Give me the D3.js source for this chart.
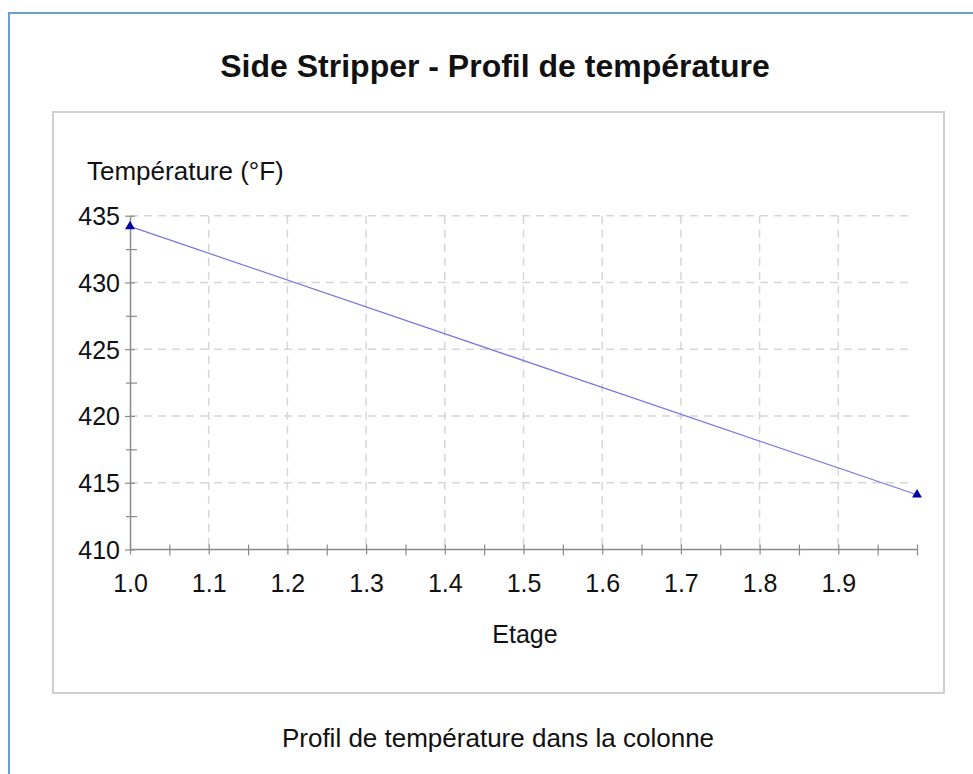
<!DOCTYPE html>
<html>
<head>
<meta charset="utf-8">
<script src="https://cdn.jsdelivr.net/npm/d3@7/dist/d3.min.js"></script>
<style>
  body { margin: 0; background: #fff; }
  text { font-family: "Liberation Sans", Arial, sans-serif; fill: #111; }
</style>
</head>
<body>
<svg id="chart" width="973" height="774"></svg>
<script>
const title = "Side Stripper - Profil de température";
const yTitle = "Température (°F)";
const xTitle = "Etage";
const caption = "Profil de température dans la colonne";

const stages = [1.0, 2.0];
const temperatures = [434.2, 414.1];

const xTicks = [1.0, 1.1, 1.2, 1.3, 1.4, 1.5, 1.6, 1.7, 1.8, 1.9];
const xMinorTicks = [1.05, 1.15, 1.25, 1.35, 1.45, 1.55, 1.65, 1.75, 1.85, 1.95, 2.0];
const yTicks = [410, 415, 420, 425, 430, 435];
const yMinorTicks = [412.5, 417.5, 422.5, 427.5, 432.5];

const svg = d3.select("#chart");
const width = +svg.attr("width");
const height = +svg.attr("height");

// outer frame (blue) and plot box (gray)
svg.append("rect")
  .attr("x", 9).attr("y", 13)
  .attr("width", width).attr("height", height)
  .attr("fill", "none")
  .attr("stroke", "#6a9fd8")
  .attr("stroke-width", 2);

svg.append("rect")
  .attr("x", 53).attr("y", 112)
  .attr("width", 891).attr("height", 581)
  .attr("fill", "none")
  .attr("stroke", "#cfcfcf")
  .attr("stroke-width", 2);

const margin = { left: 130, right: 56, top: 215.7, bottom: 224.5 };
const innerWidth = width - margin.left - margin.right;
const innerHeight = height - margin.top - margin.bottom;

const g = svg.append("g")
  .attr("transform", `translate(${margin.left}, ${margin.top})`);

const x = d3.scaleLinear().domain([1.0, 2.0]).range([0, innerWidth]);
const y = d3.scaleLinear().domain([410, 435]).range([innerHeight, 0]);

// dashed grid
g.append("g")
  .selectAll("line")
  .data(xTicks.slice(1))
  .enter()
  .append("line")
  .attr("x1", d => x(d)).attr("x2", d => x(d))
  .attr("y1", 0).attr("y2", innerHeight)
  .attr("stroke", "#d6d6d6")
  .attr("stroke-width", 1.5)
  .attr("stroke-dasharray", "8,6");

g.append("g")
  .selectAll("line")
  .data(yTicks.slice(1))
  .enter()
  .append("line")
  .attr("x1", 0).attr("x2", innerWidth - 8)
  .attr("y1", d => y(d)).attr("y2", d => y(d))
  .attr("stroke", "#d6d6d6")
  .attr("stroke-width", 1.5)
  .attr("stroke-dasharray", "8,6");

// axes: ticks cross the axis line
function styleAxis(sel) {
  sel.attr("font-size", null).attr("font-family", null);
  sel.select(".domain").attr("stroke", "#8a8a8a").attr("stroke-width", 1.5);
  sel.selectAll(".tick line").attr("stroke", "#8a8a8a").attr("stroke-width", 1.2);
  sel.selectAll(".tick text")
    .attr("font-size", "25px")
    .attr("fill", "#111");
}

const xAxis = g.append("g")
  .attr("transform", `translate(0, ${innerHeight})`)
  .call(d3.axisBottom(x).tickValues(xTicks).tickFormat(d3.format(".1f"))
    .tickSizeInner(5).tickSizeOuter(0).tickPadding(20));
xAxis.selectAll(".tick line").attr("y1", -5);
styleAxis(xAxis);
xAxis.select(".domain").attr("d", `M0,0H${innerWidth}`);

const xMinor = g.append("g")
  .attr("transform", `translate(0, ${innerHeight})`)
  .call(d3.axisBottom(x).tickValues(xMinorTicks).tickFormat("").tickSizeInner(6).tickSizeOuter(0));
xMinor.select(".domain").remove();
xMinor.selectAll(".tick text").remove();
xMinor.selectAll(".tick line").attr("y1", -5).attr("stroke", "#8a8a8a").attr("stroke-width", 1.2);

const yAxis = g.append("g")
  .call(d3.axisLeft(y).tickValues(yTicks).tickFormat(d3.format("d"))
    .tickSizeInner(5).tickSizeOuter(0).tickPadding(5));
yAxis.selectAll(".tick line").attr("x1", 5);
styleAxis(yAxis);
yAxis.selectAll(".tick text").attr("dy", "0.36em");

const yMinor = g.append("g")
  .call(d3.axisLeft(y).tickValues(yMinorTicks).tickFormat("").tickSizeInner(4).tickSizeOuter(0));
yMinor.select(".domain").remove();
yMinor.selectAll(".tick text").remove();
yMinor.selectAll(".tick line").attr("x1", 7).attr("stroke", "#8a8a8a").attr("stroke-width", 1.2);

// series
const points = stages.map((s, i) => ({ stage: s, temp: temperatures[i] }));

g.append("path")
  .datum(points)
  .attr("fill", "none")
  .attr("stroke", "#7a7ade")
  .attr("stroke-width", 1.3)
  .attr("d", d3.line().x(d => x(d.stage)).y(d => y(d.temp)));

g.selectAll(".marker")
  .data(points)
  .enter()
  .append("path")
  .attr("class", "marker")
  .attr("transform", d => `translate(${x(d.stage)}, ${y(d.temp)})`)
  .attr("d", d3.symbol().type(d3.symbolTriangle).size(42))
  .attr("fill", "#0000a8");

// texts
svg.append("text")
  .attr("x", 495)
  .attr("y", 77)
  .attr("text-anchor", "middle")
  .attr("font-size", "32px")
  .attr("font-weight", "bold")
  .text(title);

svg.append("text")
  .attr("x", 87)
  .attr("y", 180)
  .attr("font-size", "26px")
  .text(yTitle);

svg.append("text")
  .attr("x", 525)
  .attr("y", 643)
  .attr("text-anchor", "middle")
  .attr("font-size", "25px")
  .text(xTitle);

svg.append("text")
  .attr("x", 498)
  .attr("y", 747)
  .attr("text-anchor", "middle")
  .attr("font-size", "26px")
  .text(caption);
</script>
</body>
</html>
